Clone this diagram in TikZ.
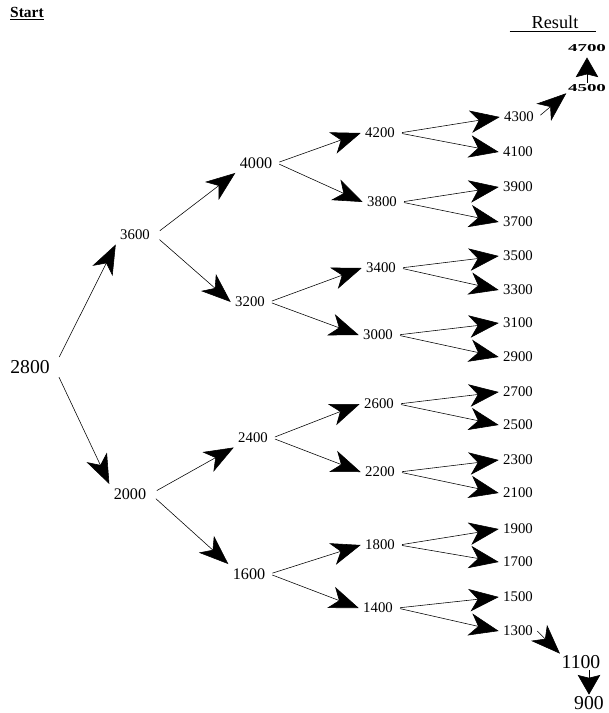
\documentclass[tikz,border=0pt]{standalone}
\usepackage{fontspec}
\setmainfont{Liberation Serif}
\usetikzlibrary{arrows.meta}

\begin{document}
\begin{tikzpicture}[x=0.025cm,y=-0.025cm,
  val/.style={inner sep=3pt,font=\fontsize{10.5}{10.5}\selectfont},
  mid/.style={val,font=\fontsize{11.5}{11.5}\selectfont},
  big/.style={val,font=\fontsize{14}{14}\selectfont},
  tiny/.style={inner sep=1pt,font=\bfseries\fontsize{7.5}{7.5}\selectfont},
  br/.style={-{Stealth[length=21pt,width=16pt,inset=6pt]},line width=0.4pt,shorten <=2pt},
  sbr/.style={-{Stealth[length=14pt,width=16pt,inset=2pt]},line width=0.4pt}]
\useasboundingbox (0,0) rectangle (608,713);
\node[font=\bfseries\fontsize{11}{11}\selectfont] (start) at (27,14) {\underline{Start}};
\node[font=\fontsize{13}{13}\selectfont] (result) at (553,24) {\underline{\hspace{5.5mm}Result\hspace{4.5mm}}};

\node[big] (p2800) at (30,367) {2800};
\node[val] (p3600) at (135,235) {3600};
\node[mid] (p2000) at (130,494) {2000};
\node[mid] (p4000) at (256,163) {4000};
\node[val] (p3200) at (250,302) {3200};
\node[val] (p2400) at (253,438) {2400};
\node[mid] (p1600) at (249,574) {1600};
\node[val] (p4200) at (380,133) {4200};
\node[val] (p3800) at (382,202) {3800};
\node[val] (p3400) at (381,268) {3400};
\node[val] (p3000) at (378,335) {3000};
\node[val] (p2600) at (379,404) {2600};
\node[val] (p2200) at (380,472) {2200};
\node[val] (p1800) at (380,545) {1800};
\node[val] (p1400) at (378,608) {1400};
\node[val] (p4300) at (519,117) {4300};
\node[val] (p4100) at (518,152) {4100};
\node[val] (p3900) at (518,187) {3900};
\node[val] (p3700) at (518,222) {3700};
\node[val] (p3500) at (518,256) {3500};
\node[val] (p3300) at (518,290) {3300};
\node[val] (p3100) at (518,323) {3100};
\node[val] (p2900) at (518,357) {2900};
\node[val] (p2700) at (518,392) {2700};
\node[val] (p2500) at (518,425) {2500};
\node[val] (p2300) at (518,460) {2300};
\node[val] (p2100) at (518,493) {2100};
\node[val] (p1900) at (518,529) {1900};
\node[val] (p1700) at (518,562) {1700};
\node[val] (p1500) at (518,597) {1500};
\node[val] (p1300) at (518,631) {1300};
\node[tiny] (p4500) at (587,88) {\scalebox{1.8}[1]{4500}};
\node[tiny] (p4700) at (587,48) {\scalebox{1.8}[1]{4700}};
\node[big,inner sep=1pt] (p1100) at (581,662) {1100};
\node[big,inner sep=1pt] (p900) at (589,703) {900};

% first two steps
\draw[br,shorten <=8pt] (p2800.east) -- (p3600.south west);
\draw[br,shorten <=8pt] (p2800.east) -- (p2000.north west);
\draw[br,shorten <=5pt] (p3600.east) -- (p4000.south west);
\draw[br,shorten <=5pt] (p3600.east) -- (p3200.west);
\draw[br,shorten <=5pt] (p2000.east) -- (p2400.south west);
\draw[br,shorten <=5pt] (p2000.east) -- (p1600.north west);

\draw[br] (p4000.east) -- (p4200.west);
\draw[br] (p4000.east) -- (p3800.west);
\draw[br] (p3200.east) -- (p3400.west);
\draw[br] (p3200.east) -- (p3000.west);
\draw[br] (p2400.east) -- (p2600.west);
\draw[br] (p2400.east) -- (p2200.west);
\draw[br] (p1600.east) -- (p1800.west);
\draw[br] (p1600.east) -- (p1400.west);

\draw[br] (p4200.east) -- (p4300.west);
\draw[br] (p4200.east) -- (p4100.west);
\draw[br] (p3800.east) -- (p3900.west);
\draw[br] (p3800.east) -- (p3700.west);
\draw[br] (p3400.east) -- (p3500.west);
\draw[br] (p3400.east) -- (p3300.west);
\draw[br] (p3000.east) -- (p3100.west);
\draw[br] (p3000.east) -- (p2900.west);
\draw[br] (p2600.east) -- (p2700.west);
\draw[br] (p2600.east) -- (p2500.west);
\draw[br] (p2200.east) -- (p2300.west);
\draw[br] (p2200.east) -- (p2100.west);
\draw[br] (p1800.east) -- (p1900.west);
\draw[br] (p1800.east) -- (p1700.west);
\draw[br] (p1400.east) -- (p1500.west);
\draw[br] (p1400.east) -- (p1300.west);

% the two ends
\draw[br] (p4300.east) -- (p4500.south west);
\draw[sbr,shorten >=3pt] (p4500.north) -- (p4700.south);
\draw[br,shorten <=0pt] (p1300.east) -- (p1100.north west);
\draw[sbr] (p900.north |- p1100.south) -- (p900.north);
\end{tikzpicture}
\end{document}
